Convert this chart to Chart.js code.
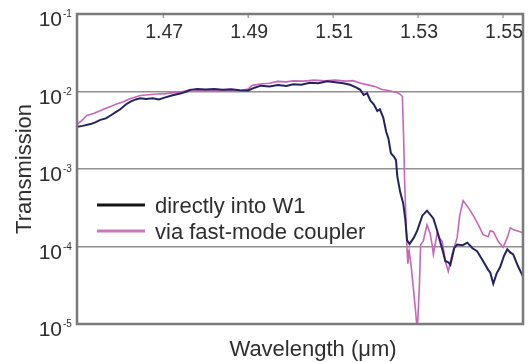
<!DOCTYPE html>
<html>
<head>
<meta charset="utf-8">
<script src="https://cdn.jsdelivr.net/npm/chart.js@4.4.1/dist/chart.umd.min.js"></script>
<style>
  body { margin: 0; background: #fff; }
  #wrap { width: 530px; height: 362px; }
</style>
</head>
<body>
<div id="wrap"><canvas id="transChart" width="530" height="362"></canvas></div>
<script>
// tick labels
const xTicks = [1.47, 1.49, 1.51, 1.53, 1.55];
const yTicks = [1e-1, 1e-2, 1e-3, 1e-4, 1e-5];

// "directly into W1"
const directX = [
  1.4498, 1.4510, 1.4529, 1.4540, 1.4552, 1.4565, 1.4576, 1.4590, 1.4599, 1.4612,
  1.4623, 1.4635, 1.4646, 1.4660, 1.4675, 1.4690, 1.4705, 1.4720, 1.4740, 1.4755,
  1.4764, 1.4780, 1.4800, 1.4820, 1.4840, 1.4860, 1.4880, 1.4900, 1.4915, 1.4930,
  1.4950, 1.4970, 1.4990, 1.5006, 1.5025, 1.5045, 1.5065, 1.5086, 1.5105, 1.5124,
  1.5140, 1.5155, 1.5164, 1.5172, 1.5180, 1.5188, 1.5196, 1.5204, 1.5210, 1.5218,
  1.5225, 1.5230, 1.5236, 1.5243, 1.5248, 1.5251, 1.5258, 1.5265, 1.5270, 1.5274,
  1.5280, 1.5290, 1.5298, 1.5310, 1.5321, 1.5336, 1.5345, 1.5352, 1.5360, 1.5364,
  1.5372, 1.5376, 1.5385, 1.5392, 1.5405, 1.5416, 1.5428, 1.5439, 1.5455, 1.5465,
  1.5470, 1.5477, 1.5485, 1.5493, 1.5502, 1.5510, 1.5517, 1.5524, 1.5535, 1.5547
];
const directY = [
  3.5e-3, 3.6e-3, 3.8e-3, 4.0e-3, 4.3e-3, 4.5e-3, 4.9e-3, 5.5e-3, 5.9e-3, 6.8e-3,
  7.4e-3, 7.9e-3, 8.2e-3, 8.0e-3, 8.2e-3, 7.9e-3, 8.4e-3, 8.9e-3, 9.4e-3, 1.0e-2,
  1.05e-2, 1.08e-2, 1.06e-2, 1.08e-2, 1.05e-2, 1.07e-2, 1.04e-2, 1.03e-2, 1.12e-2, 1.19e-2,
  1.16e-2, 1.21e-2, 1.18e-2, 1.24e-2, 1.22e-2, 1.3e-2, 1.28e-2, 1.36e-2, 1.32e-2, 1.28e-2,
  1.22e-2, 1.12e-2, 1.05e-2, 9.0e-3, 9.5e-3, 7.6e-3, 6.8e-3, 5.6e-3, 5.9e-3, 4.6e-3,
  3.0e-3, 2.5e-3, 1.6e-3, 1.45e-3, 1.3e-3, 8.1e-4, 5.0e-4, 3.6e-4, 2.2e-4, 1.2e-4,
  1.08e-4, 1.3e-4, 1.6e-4, 2.5e-4, 2.9e-4, 2.3e-4, 1.6e-4, 1.15e-4, 8.0e-5, 6.5e-5,
  6.2e-5, 5.8e-5, 9.5e-5, 1.06e-4, 1.04e-4, 1.12e-4, 9.5e-5, 8.7e-5, 6.2e-5, 5.0e-5,
  4.6e-5, 3.3e-5, 4.5e-5, 5.4e-5, 7.5e-5, 9.2e-5, 8.4e-5, 7.9e-5, 5.6e-5, 4.1e-5
];

// "via fast-mode coupler"
const couplerX = [
  1.4498, 1.4510, 1.4520, 1.4536, 1.4550, 1.4562, 1.4576, 1.4590, 1.4606, 1.4620,
  1.4646, 1.4665, 1.4686, 1.4705, 1.4720, 1.4740, 1.4764, 1.4785, 1.4805, 1.4825,
  1.4845, 1.4865, 1.4885, 1.4900, 1.4910, 1.4929, 1.4950, 1.4969, 1.4990, 1.5006,
  1.5030, 1.5055, 1.5080, 1.5105, 1.5130, 1.5147, 1.5165, 1.5187, 1.5200, 1.5215,
  1.5227, 1.5240, 1.5250, 1.5258, 1.5263, 1.5266, 1.5268, 1.5272, 1.5274, 1.5276,
  1.5279, 1.5284, 1.5290, 1.5294, 1.5298, 1.5303, 1.5306, 1.5312, 1.5321, 1.5328,
  1.5333, 1.5336, 1.5345, 1.5350, 1.5357, 1.5364, 1.5371, 1.5380, 1.5392, 1.5398,
  1.5406, 1.5418, 1.5430, 1.5442, 1.5453, 1.5465, 1.5470, 1.5477, 1.5489, 1.5500,
  1.5510, 1.5517, 1.5525, 1.5533, 1.5547
];
const couplerY = [
  3.8e-3, 4.3e-3, 4.9e-3, 5.2e-3, 5.6e-3, 6.0e-3, 6.4e-3, 6.9e-3, 7.4e-3, 8.0e-3,
  8.9e-3, 9.1e-3, 9.3e-3, 9.4e-3, 9.6e-3, 9.8e-3, 1.06e-2, 1.03e-2, 1.05e-2, 1.02e-2,
  1.04e-2, 1.01e-2, 1.04e-2, 1.08e-2, 1.2e-2, 1.25e-2, 1.28e-2, 1.35e-2, 1.33e-2, 1.37e-2,
  1.36e-2, 1.4e-2, 1.37e-2, 1.4e-2, 1.36e-2, 1.38e-2, 1.28e-2, 1.2e-2, 1.15e-2, 1.06e-2,
  1.04e-2, 1.0e-2, 9.7e-3, 9.2e-3, 8.6e-3, 2.5e-3, 8.1e-4, 1.8e-4, 9.0e-5, 6.0e-5,
  8.7e-5, 5.4e-5, 2.5e-5, 1.5e-5, 8.0e-6, 3.0e-5, 1.06e-4, 1.16e-4, 1.9e-4, 1.5e-4,
  1.06e-4, 7.9e-5, 1.5e-4, 1.3e-4, 1.16e-4, 6.5e-5, 4.8e-5, 7.9e-5, 1.3e-4, 2.5e-4,
  3.9e-4, 3.2e-4, 2.5e-4, 1.9e-4, 1.42e-4, 1.34e-4, 1.6e-4, 1.55e-4, 1.16e-4, 9.7e-5,
  1.3e-4, 1.74e-4, 1.64e-4, 1.6e-4, 1.5e-4
];

const textColor = "#2e2e2e";
const frameColor = "#7a7a7a";
const fontFamily = "'Liberation Sans', Arial, sans-serif";

Chart.defaults.font.family = fontFamily;
Chart.defaults.color = textColor;

const toPoints = (xs, ys) => xs.map((x, i) => ({ x: x, y: ys[i] }));

// draws the frame, inside tick labels, x title and the legend
const extras = {
  id: "extras",
  afterDatasetsDraw(chart) {
    const { ctx, chartArea: a, scales } = chart;
    const xs = scales.x;
    const ys = scales.y;
    ctx.save();

    ctx.strokeStyle = frameColor;
    ctx.lineWidth = 2.5;
    ctx.strokeRect(a.left, a.top, a.right - a.left, a.bottom - a.top);

    ctx.fillStyle = textColor;
    ctx.font = "19.5px " + fontFamily;
    ctx.textAlign = "center";
    ctx.textBaseline = "alphabetic";
    ctx.lineWidth = 1;
    xs.ticks.forEach((t) => {
      const px = xs.getPixelForValue(t.value);
      ctx.fillText(t.value.toFixed(2), px + 1, a.top + 23.5);
      ctx.beginPath();
      ctx.moveTo(px, a.top);
      ctx.lineTo(px, a.top + 4);
      ctx.stroke();
    });

    ys.ticks.forEach((t) => {
      const py = ys.getPixelForValue(t.value);
      const exp = Math.round(Math.log10(t.value));
      ctx.font = "21px " + fontFamily;
      ctx.textAlign = "right";
      ctx.fillText("10", a.left - 15, py + 12);
      ctx.font = "10px " + fontFamily;
      ctx.textAlign = "left";
      ctx.fillText(String(exp), a.left - 14, py + 3);
    });

    ctx.font = "22px " + fontFamily;
    ctx.textAlign = "center";
    ctx.fillText("Wavelength (\u03bcm)", (a.left + a.right) / 2 + 13, 355.5);

    // legend
    const legendColors = ["#151515", "#c67abb"];
    chart.data.datasets.forEach((ds, i) => {
      const ly = 205 + i * 26;
      ctx.strokeStyle = legendColors[i];
      ctx.lineWidth = 3;
      ctx.beginPath();
      ctx.moveTo(a.left + 20, ly);
      ctx.lineTo(a.left + 68, ly);
      ctx.stroke();
      ctx.fillStyle = textColor;
      ctx.font = "22px " + fontFamily;
      ctx.textAlign = "left";
      ctx.fillText(ds.label, a.left + 78, ly + 7.5);
    });

    ctx.restore();
  },
};

const chartCtx = document.getElementById("transChart").getContext("2d");
const transChart = new Chart(chartCtx, {
  type: "line",
  data: {
    datasets: [
      {
        label: "directly into W1",
        data: toPoints(directX, directY),
        borderColor: "#25235f",
        borderWidth: 2,
        pointRadius: 0,
        tension: 0,
      },
      {
        label: "via fast-mode coupler",
        data: toPoints(couplerX, couplerY),
        borderColor: "#c767b6",
        borderWidth: 1.6,
        pointRadius: 0,
        tension: 0,
      },
    ],
  },
  options: {
    responsive: false,
    animation: false,
    events: [],
    layout: {
      autoPadding: false,
      padding: { top: 14, right: 7, bottom: 30, left: 0 },
    },
    plugins: {
      legend: { display: false },
      tooltip: { enabled: false },
    },
    scales: {
      x: {
        type: "linear",
        min: 1.4497,
        max: 1.5547,
        afterBuildTicks: (axis) => {
          axis.ticks = xTicks.map((v) => ({ value: v }));
        },
        grid: { display: false },
        border: { display: false },
        ticks: { display: false },
      },
      y: {
        type: "logarithmic",
        min: 1e-5,
        max: 1e-1,
        afterBuildTicks: (axis) => {
          axis.ticks = yTicks.map((v) => ({ value: v }));
        },
        grid: { color: "#8f8f8f", lineWidth: 1.5, drawTicks: false },
        border: { display: false },
        ticks: { display: false },
        title: {
          display: true,
          text: "Transmission",
          color: textColor,
          font: { size: 22 },
          padding: { top: 11.3, bottom: 39.3 },
        },
      },
    },
  },
  plugins: [extras],
});
</script>
</body>
</html>
